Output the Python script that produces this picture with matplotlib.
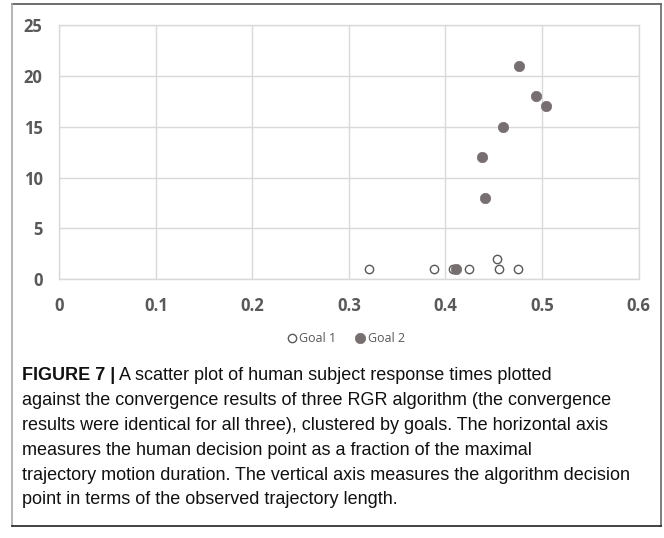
import matplotlib
matplotlib.use("Agg")
import matplotlib.pyplot as plt
from matplotlib.lines import Line2D

# ---- data ----
goal1_x = [0.321, 0.388, 0.408, 0.424, 0.453, 0.456, 0.475]
goal1_y = [1, 1, 1, 1, 2, 1, 1]
goal2_x = [0.476, 0.494, 0.504, 0.460, 0.438, 0.441, 0.411]
goal2_y = [21, 18, 17, 15, 12, 8, 1]
x_ticks = [0, 0.1, 0.2, 0.3, 0.4, 0.5, 0.6]
x_tick_labels = ["0", "0.1", "0.2", "0.3", "0.4", "0.5", "0.6"]
y_ticks = [0, 5, 10, 15, 20, 25]
series_names = ["Goal 1", "Goal 2"]
caption_bold = "FIGURE 7 |"
caption_lines = [
    " A scatter plot of human subject response times plotted",
    "against the convergence results of three RGR algorithm (the convergence",
    "results were identical for all three), clustered by goals. The horizontal axis",
    "measures the human decision point as a fraction of the maximal",
    "trajectory motion duration. The vertical axis measures the algorithm decision",
    "point in terms of the observed trajectory length.",
]

W, H = 664, 538
fig = plt.figure(figsize=(W / 100, H / 100), dpi=100)

def fx(px):
    return px / W

def fy(py):
    return 1 - py / H

# outer frame
bottom_frame = 526
fig.add_artist(Line2D([fx(12), fx(661)], [fy(3.5), fy(3.5)], color="#555555", lw=1.2))
fig.add_artist(Line2D([fx(12), fx(12)], [fy(3.5), fy(bottom_frame)], color="#a8a8a8", lw=1.2))
fig.add_artist(Line2D([fx(661), fx(661)], [fy(3.5), fy(bottom_frame)], color="#666666", lw=1.2))
fig.add_artist(Line2D([fx(12), fx(661)], [fy(bottom_frame), fy(bottom_frame)], color="#222222", lw=1.2))

left, right, top, bottom = 59.3, 638.5, 25, 279.3
ax = fig.add_axes([fx(left), fy(bottom), (right - left) / W, (bottom - top) / H])

tick_color = "#595959"
grid_color = "#d9d9d9"

ax.scatter(goal1_x, goal1_y, s=36, facecolors="white", edgecolors="#595959",
           linewidths=1.0, zorder=3, label=series_names[0])
ax.scatter(goal2_x, goal2_y, s=56, facecolors="#776e70", edgecolors="#776e70",
           linewidths=0.5, zorder=4, label=series_names[1])

ax.set_xlim(0, 0.6)
ax.set_ylim(0, 25)
ax.set_xticks(x_ticks)
ax.set_xticklabels(x_tick_labels)
ax.set_yticks(y_ticks)
ax.grid(True, color=grid_color, lw=1.0, zorder=0)
ax.set_axisbelow(True)
for s in ax.spines.values():
    s.set_color(grid_color)
    s.set_linewidth(1.0)
ax.tick_params(length=0, colors=tick_color, labelsize=12)
ax.tick_params(axis="x", pad=12.5)
ax.tick_params(axis="y", pad=12)
for lab in ax.get_xticklabels() + ax.get_yticklabels():
    lab.set_fontfamily("Open Sans")
    lab.set_fontweight("bold")
    lab.set_color(tick_color)

leg = ax.legend(loc="center", bbox_to_anchor=(fx(345), fy(338)),
                bbox_transform=fig.transFigure, ncol=2, frameon=False,
                prop={"family": "Open Sans", "size": 9},
                handletextpad=0.1, columnspacing=1.4, handlelength=1.0,
                borderpad=0, labelcolor=tick_color)

# caption
cap_x = 22
cap_y0 = 376
dy = 24.8
fs = 13
renderer = fig.canvas.get_renderer()
tb = fig.text(fx(cap_x), fy(cap_y0), caption_bold, fontsize=fs, fontweight="bold",
              family="Liberation Sans", va="center", ha="left", color="#111111")
bb = tb.get_window_extent(renderer)
fig.text(bb.x1 / W, fy(cap_y0), caption_lines[0], fontsize=fs,
         family="Liberation Sans", va="center", ha="left", color="#111111")
for i, line in enumerate(caption_lines[1:], start=1):
    fig.text(fx(cap_x), fy(cap_y0 + i * dy), line, fontsize=fs,
             family="Liberation Sans", va="center", ha="left", color="#111111")

fig.savefig("out.png", dpi=100)
